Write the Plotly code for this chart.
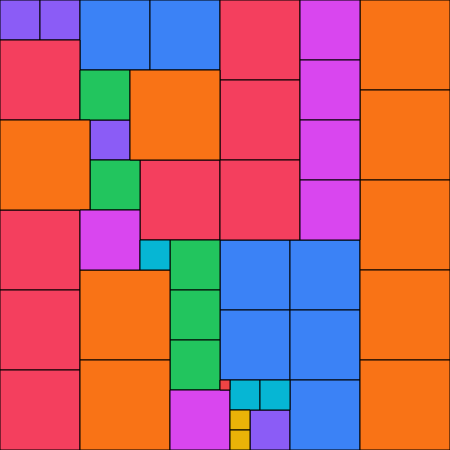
import plotly.graph_objects as go

# squares on a 45 x 45 grid: left column, top row, side length, colour group
cols  = [0, 4, 9, 25,
         8, 15, 22, 29, 22, 29, 29,
         0, 14, 22, 22, 22, 0, 0, 0,
         8, 9, 17, 17, 17,
         13, 0, 36, 36, 36, 36, 36, 8, 8,
         30, 30, 30, 30, 8, 17,
         14, 23, 26,
         22,
         23, 23]
rows  = [0, 0, 12, 41,
         0, 0, 24, 24, 31, 31, 38,
         4, 16, 0, 8, 16, 21, 29, 37,
         7, 16, 24, 29, 34,
         7, 12, 0, 9, 18, 27, 36, 27, 36,
         0, 6, 12, 18, 21, 39,
         24, 38, 38,
         38,
         41, 43]
sides = [4, 4, 4, 4,
         7, 7, 7, 7, 7, 7, 7,
         8, 8, 8, 8, 8, 8, 8, 8,
         5, 5, 5, 5, 5,
         9, 9, 9, 9, 9, 9, 9, 9, 9,
         6, 6, 6, 6, 6, 6,
         3, 3, 3,
         1,
         2, 2]
kinds = (["violet"] * 4 + ["blue"] * 7 + ["rose"] * 8 + ["green"] * 5 +
         ["orange"] * 9 + ["fuchsia"] * 6 + ["cyan"] * 3 + ["red"] + ["yellow"] * 2)

PALETTE = {
    "violet":  "#8b5cf6",
    "blue":    "#3b82f6",
    "rose":    "#f43f5e",
    "green":   "#22c55e",
    "orange":  "#f97316",
    "fuchsia": "#d946ef",
    "cyan":    "#06b6d4",
    "red":     "#ef4444",
    "yellow":  "#eab308",
}

fig = go.Figure(go.Bar(
    x=cols, y=sides, base=rows, width=sides, offset=0,
    marker=dict(color=[PALETTE[k] for k in kinds], line=dict(color="#000000", width=1)),
    hoverinfo="skip",
))
fig.update_layout(
    width=450, height=450, margin=dict(l=0, r=0, t=0, b=0),
    paper_bgcolor="#ffffff", plot_bgcolor="#ffffff",
    barmode="overlay", showlegend=False,
    xaxis=dict(range=[0, 45], visible=False, fixedrange=True),
    yaxis=dict(range=[45, 0], visible=False, fixedrange=True),
)
fig.write_html(
    "out.html",
    config={"displayModeBar": False},
    post_script="document.body.style.margin = '0'; document.body.style.overflow = 'hidden';",
)
